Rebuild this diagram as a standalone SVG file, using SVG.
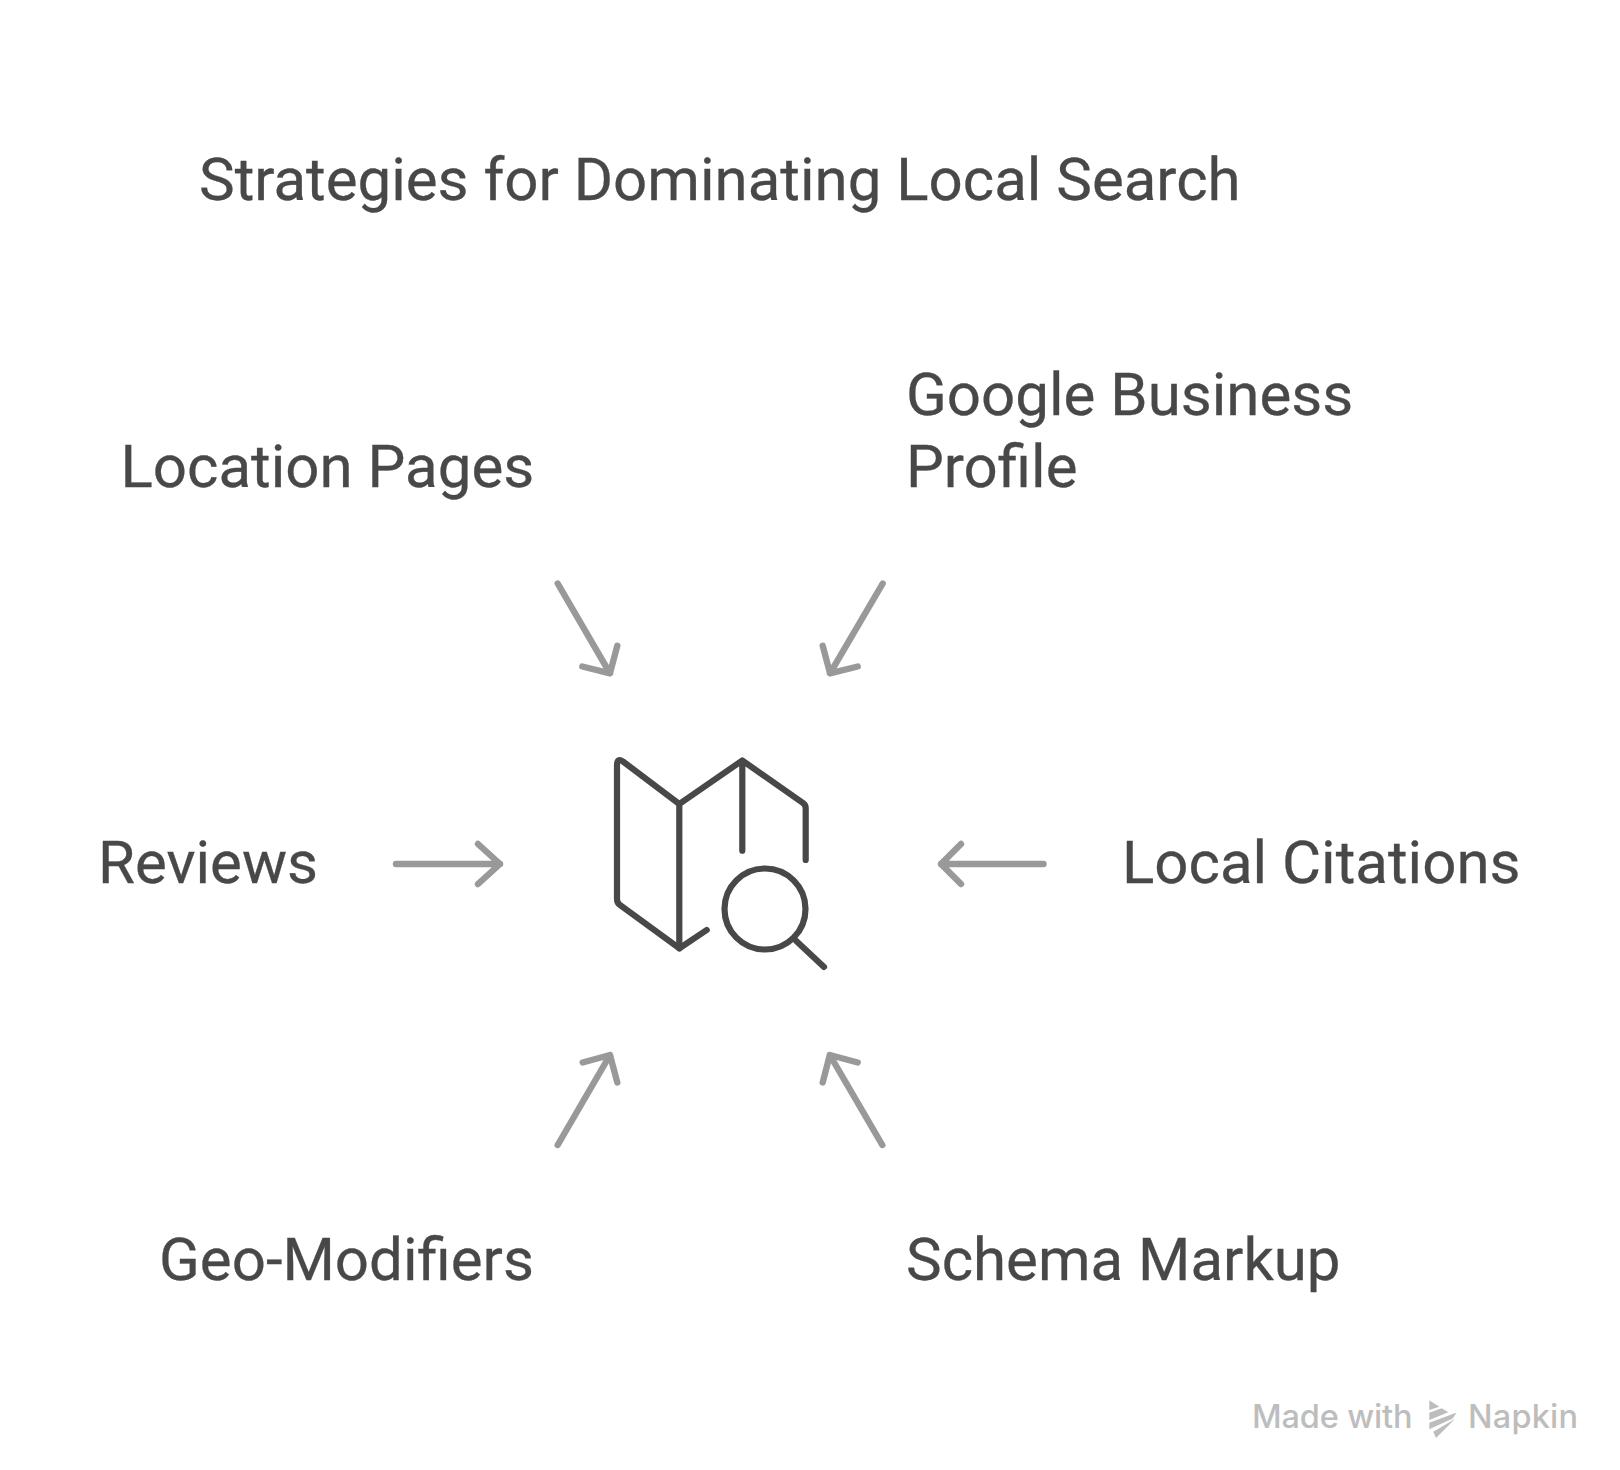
<svg xmlns="http://www.w3.org/2000/svg" width="1620" height="1470" viewBox="0 0 1620 1470">
<style>
text{font-family:Roboto,"Liberation Sans",sans-serif;font-size:60px;fill:#484848;stroke:#484848;stroke-width:.3px}
.a path{fill:none;stroke:#999;stroke-width:6.4px;stroke-linecap:round;stroke-linejoin:round}
.i path,.i circle{fill:none;stroke:#484848;stroke-width:6.2px;stroke-linecap:round;stroke-linejoin:round}
text.f{font-family:Inter,"Noto Sans",sans-serif;font-size:32.5px;font-weight:500;fill:#bdbdbd;stroke:none}
.l{fill:#bdbdbd}
</style>
<rect width="1620" height="1470" fill="#fff"/>
<g id="title"><text x="199" y="199.5">Strategies for Dominating Local Search</text></g>
<g id="node-location-pages"><text x="120.5" y="487.3">Location Pages</text></g>
<g id="node-google-business-profile"><text x="906" y="415.3">Google Business</text><text x="906" y="487.3">Profile</text></g>
<g id="node-reviews"><text x="98" y="883">Reviews</text></g>
<g id="node-local-citations"><text x="1122" y="883">Local Citations</text></g>
<g id="node-geo-modifiers"><text x="159" y="1280">Geo-Modifiers</text></g>
<g id="node-schema-markup"><text x="906" y="1280">Schema Markup</text></g>
<g id="connectors" class="a">
<path d="M557.7 583.5 610 673.3M582.3 666.5 610 673.3 617.3 645.8"/>
<path d="M882.7 583.5 830 673.3M822.7 645.8 830 673.3 857.7 666.5"/>
<path d="M396 864H500M478 844 500 864 478 884"/>
<path d="M1043.5 864H941M961 844 941 864 961 884"/>
<path d="M557.7 1145 610 1055M582.7 1062.5 610 1055 617.3 1082.5"/>
<path d="M882.3 1145 829.8 1055M822.7 1082.5 829.8 1055 857.7 1062.5"/>
</g>
<g id="node-center" class="i">
<path d="M679.3 804 623 761.5Q617 757.5 617 765V899Q617 903 620 905L679.3 948.3 706.7 930"/>
<path d="M679.3 948.3V804L742.3 760.5 803 803Q805.7 805 805.7 808V860M742.3 760.5V850.7"/>
<circle cx="765" cy="909" r="40.5"/>
<path d="M796 940.7 824 967"/>
</g>
<g id="footer"><text class="f" x="1252" y="1428" textLength="160.5">Made with</text>
<polygon class="l" points="1429.3,1400.3 1439.3,1406.7 1429.3,1410"/>
<polygon class="l" points="1429.3,1412.8 1441.7,1408.3 1448.3,1412.3 1429.3,1420"/>
<polygon class="l" points="1429.3,1422.7 1456.7,1412.5 1452.7,1418.5 1429.3,1429.3"/>
<polygon class="l" points="1433.3,1431.7 1455,1419 1436,1438"/>
<text class="f" x="1468" y="1428" textLength="110">Napkin</text></g>
</svg>
